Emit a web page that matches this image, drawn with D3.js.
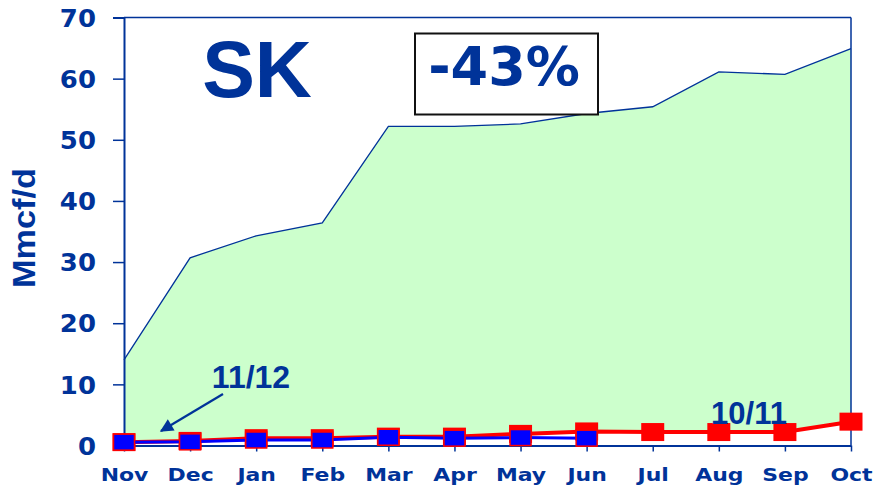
<!DOCTYPE html>
<html>
<head>
<script src="https://cdn.jsdelivr.net/npm/d3@7"></script>
<style>
  body { margin: 0; background: #fff; }
  text { font-family: Arial, "Liberation Sans", sans-serif; font-weight: bold; }
  .wide { font-family: "DejaVu Sans", Verdana, sans-serif; }
</style>
</head>
<body>
<script>
// chart data
var months = ["Nov","Dec","Jan","Feb","Mar","Apr","May","Jun","Jul","Aug","Sep","Oct"];
var capacity = [14.0, 30.7, 34.3, 36.4, 52.2, 52.2, 52.6, 54.3, 55.4, 61.1, 60.7, 64.9];
var prod1011 = [0.55, 0.75, 1.2, 1.2, 1.45, 1.45, 1.9, 2.3, 2.2, 2.2, 2.2, 3.9];
var prod1112 = [0.55, 0.6, 0.9, 0.9, 1.35, 1.2, 1.3, 1.2];
var yTicks = [0, 10, 20, 30, 40, 50, 60, 70];

var W = 881, H = 485;
var pLeft = 124, pRight = 851, pTop = 17.5, pBottom = 445.5;
var navy = "#003399";

var svg = d3.select("body").append("svg")
  .attr("width", W).attr("height", H);

var x = d3.scalePoint().domain(months).range([pLeft, pRight]);
var y = d3.scaleLinear().domain([0, 70]).range([pBottom, pTop]);

// green area, sitting on the 10/11 line
var area = d3.area()
  .x(function(d, i) { return x(months[i]); })
  .y0(function(d, i) { return y(prod1011[i]); })
  .y1(function(d) { return y(d); });

svg.append("path")
  .datum(capacity)
  .attr("d", area)
  .attr("fill", "#ccffcc");

svg.append("path")
  .datum(capacity)
  .attr("d", d3.line().x(function(d, i) { return x(months[i]); }).y(function(d) { return y(d); }))
  .attr("fill", "none")
  .attr("stroke", navy)
  .attr("stroke-width", 1.3);

// frame top + right
svg.append("line").attr("x1", pLeft).attr("x2", pRight).attr("y1", pTop).attr("y2", pTop)
  .attr("stroke", navy).attr("stroke-width", 1.5);
svg.append("line").attr("x1", pRight).attr("x2", pRight).attr("y1", pTop).attr("y2", pBottom)
  .attr("stroke", navy).attr("stroke-width", 1.5);

// y axis
var yAxis = svg.append("g")
  .attr("transform", "translate(" + pLeft + ",0)")
  .call(d3.axisLeft(y).tickValues(yTicks).tickSize(11).tickPadding(15));
yAxis.select(".domain").attr("stroke", navy).attr("stroke-width", 2);
yAxis.selectAll(".tick line").attr("stroke", navy).attr("stroke-width", 1.5);
yAxis.selectAll(".tick text")
  .attr("class", "wide")
  .attr("fill", navy)
  .style("font-size", "24px")
  .attr("dy", "0.36em")
  .attr("transform", "scale(1.08,1)");

// x axis
var xAxis = svg.append("g")
  .attr("transform", "translate(0," + pBottom + ")")
  .call(d3.axisBottom(x).tickSize(6).tickSizeOuter(0).tickPadding(17));
xAxis.select(".domain").attr("stroke", navy).attr("stroke-width", 2);
xAxis.selectAll(".tick line").attr("stroke", navy).attr("stroke-width", 1.5);
xAxis.selectAll(".tick text")
  .attr("class", "wide")
  .attr("fill", navy)
  .style("font-size", "18px")
  .attr("transform", "scale(1.22,1)");

// y title
svg.append("text")
  .attr("transform", "translate(35,228) rotate(-90)")
  .attr("text-anchor", "middle")
  .attr("fill", navy)
  .style("font-size", "32px")
  .attr("textLength", 120)
  .attr("lengthAdjust", "spacingAndGlyphs")
  .text("Mmcf/d");

// 10/11 series (red)
var line = d3.line()
  .x(function(d, i) { return x(months[i]); })
  .y(function(d) { return y(d); });

svg.append("path").datum(prod1011).attr("d", line)
  .attr("fill", "none").attr("stroke", "#ff0000").attr("stroke-width", 4);
svg.selectAll(".m1011").data(prod1011).enter().append("rect")
  .attr("x", function(d, i) { return x(months[i]) - 11.5; })
  .attr("y", function(d) { return y(d) - 9; })
  .attr("width", 23).attr("height", 18)
  .attr("fill", "#ff0000");

// 11/12 series (blue)
svg.append("path").datum(prod1112).attr("d", line)
  .attr("fill", "none").attr("stroke", "#0000ff").attr("stroke-width", 3);
svg.selectAll(".m1112").data(prod1112).enter().append("rect")
  .attr("x", function(d, i) { return x(months[i]) - 10.5; })
  .attr("y", function(d) { return y(d) - 8; })
  .attr("width", 21).attr("height", 16)
  .attr("fill", "#0000ff")
  .attr("stroke", "#ff0000").attr("stroke-width", 1.5);

// labels
svg.append("text").attr("x", 257).attr("y", 97).attr("text-anchor", "middle")
  .attr("fill", navy).style("font-size", "79px").text("SK");

svg.append("rect").attr("x", 415).attr("y", 33.5).attr("width", 183).attr("height", 81)
  .attr("fill", "#fff").attr("stroke", "#111").attr("stroke-width", 2);
svg.append("text").attr("class", "wide").attr("x", 504).attr("y", 85).attr("text-anchor", "middle")
  .attr("fill", navy).style("font-size", "54px").text("-43%");

svg.append("text").attr("x", 251).attr("y", 388).attr("text-anchor", "middle")
  .attr("fill", navy).style("font-size", "32px").text("11/12");
svg.append("text").attr("x", 749).attr("y", 424).attr("text-anchor", "middle")
  .attr("fill", navy).style("font-size", "31px").text("10/11");

// arrow toward 11/12 line
svg.append("defs").append("marker")
  .attr("id", "ah").attr("viewBox", "0 0 10 10")
  .attr("refX", 9).attr("refY", 5)
  .attr("markerWidth", 7).attr("markerHeight", 6)
  .attr("markerUnits", "strokeWidth")
  .attr("orient", "auto")
  .append("path").attr("d", "M0,0 L10,5 L0,10 z").attr("fill", navy);
svg.append("line").attr("x1", 223).attr("y1", 394).attr("x2", 161).attr("y2", 431)
  .attr("stroke", navy).attr("stroke-width", 2.2)
  .attr("marker-end", "url(#ah)");
</script>
</body>
</html>
